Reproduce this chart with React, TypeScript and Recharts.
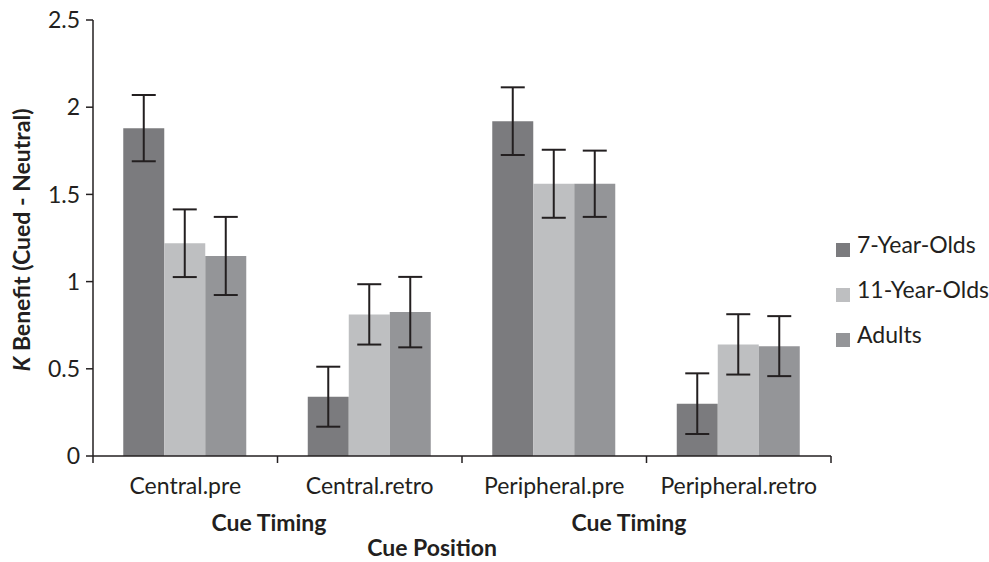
import React from "react";
import { BarChart, Bar, XAxis, YAxis, ErrorBar } from "recharts";

const categories = ["Central.pre", "Central.retro", "Peripheral.pre", "Peripheral.retro"];
const sevenYear = [1.88, 0.34, 1.92, 0.3];
const sevenYearErr = [0.19, 0.172, 0.194, 0.174];
const elevenYear = [1.22, 0.812, 1.561, 0.64];
const elevenYearErr = [0.194, 0.173, 0.195, 0.173];
const adults = [1.147, 0.825, 1.561, 0.63];
const adultsErr = [0.224, 0.202, 0.19, 0.172];
const yTicks = [0, 0.5, 1, 1.5, 2, 2.5];

const series = [
  { key: "seven", name: "7-Year-Olds", color: "#7b7b7e", values: sevenYear, err: sevenYearErr },
  { key: "eleven", name: "11-Year-Olds", color: "#bebfc1", values: elevenYear, err: elevenYearErr },
  { key: "adults", name: "Adults", color: "#949598", values: adults, err: adultsErr },
];

const data = categories.map((name, i) => {
  const row: any = { name };
  series.forEach((s) => {
    row[s.key] = s.values[i];
    row[s.key + "Err"] = s.err[i];
  });
  return row;
});

const W = 989;
const H = 562;
const PLOT_LEFT = 93;
const PLOT_RIGHT = 831;
const PLOT_TOP = 20;
const PLOT_BOTTOM = 456;
const FONT = "Lato, 'Open Sans', sans-serif";
const INK = "#231f20";
const TXT = "#231f20";

const step = (PLOT_RIGHT - PLOT_LEFT) / categories.length;

function CategoryTick(props: any) {
  const { x, payload, index } = props;
  return (
    <g>
      <line x1={x - step / 2} x2={x - step / 2} y1={PLOT_BOTTOM} y2={PLOT_BOTTOM + 7} stroke={INK} strokeWidth={1.5} />
      {index === categories.length - 1 && (
        <line x1={x + step / 2} x2={x + step / 2} y1={PLOT_BOTTOM} y2={PLOT_BOTTOM + 7} stroke={INK} strokeWidth={1.5} />
      )}
      <text x={x} y={494} textAnchor="middle" fontFamily={FONT} fontSize={23} fill={TXT}>
        {payload.value}
      </text>
    </g>
  );
}

export default function App() {
  return (
    <div style={{ position: "absolute", left: 0, top: 0, width: W, height: H, background: "#fff" }}>
      <BarChart
        width={W}
        height={H}
        data={data}
        margin={{ top: PLOT_TOP, right: W - PLOT_RIGHT, left: PLOT_LEFT - 80, bottom: H - PLOT_BOTTOM - 30 }}
        barCategoryGap="16.4%"
        barGap={0}
      >
        <XAxis
          dataKey="name"
          height={30}
          interval={0}
          tickLine={false}
          axisLine={{ stroke: INK, strokeWidth: 1.5 }}
          tick={<CategoryTick />}
        />
        <YAxis
          width={80}
          domain={[0, 2.5]}
          ticks={yTicks}
          tickSize={7}
          tickMargin={6}
          axisLine={{ stroke: INK, strokeWidth: 1.5 }}
          tickLine={{ stroke: INK, strokeWidth: 1.5 }}
          tick={{ fontFamily: FONT, fontSize: 23, fill: TXT }}
        />
        {series.map((s) => (
          <Bar key={s.key} dataKey={s.key} fill={s.color} isAnimationActive={false}>
            <ErrorBar dataKey={s.key + "Err"} width={12} stroke={INK} strokeWidth={2} direction="y" />
          </Bar>
        ))}
      </BarChart>
      <svg width={W} height={H} style={{ position: "absolute", left: 0, top: 0, pointerEvents: "none" }}>
        <text
          transform="translate(30,240) rotate(-90)"
          textAnchor="middle"
          fontFamily={FONT}
          fontSize={23}
          fontWeight="bold"
          fill={TXT}
        >
          <tspan fontStyle="italic">K</tspan> Benefit (Cued - Neutral)
        </text>
        <text x={269} y={531} textAnchor="middle" fontFamily={FONT} fontSize={23} fontWeight="bold" fill={TXT}>
          Cue Timing
        </text>
        <text x={629} y={531} textAnchor="middle" fontFamily={FONT} fontSize={23} fontWeight="bold" fill={TXT}>
          Cue Timing
        </text>
        <text x={432} y={556} textAnchor="middle" fontFamily={FONT} fontSize={23} fontWeight="bold" fill={TXT}>
          Cue Position
        </text>
        {series.map((s, i) => (
          <g key={s.key}>
            <rect x={836} y={243 + i * 45} width={14} height={14} fill={s.color} />
            <text x={857} y={253 + i * 45} fontFamily={FONT} fontSize={23} fill={TXT}>
              {s.name}
            </text>
          </g>
        ))}
      </svg>
    </div>
  );
}
